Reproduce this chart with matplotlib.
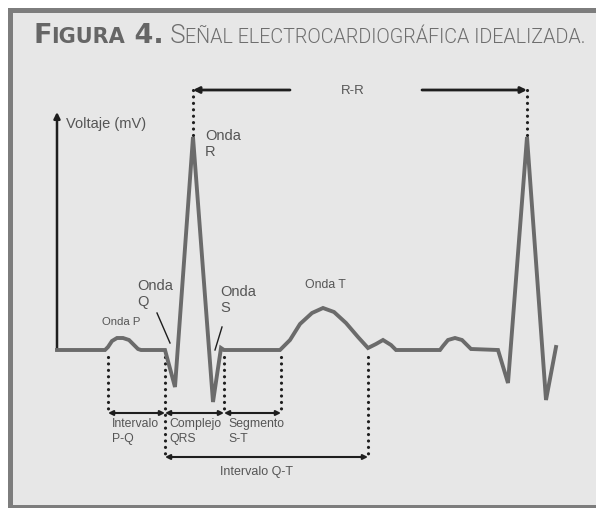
import matplotlib
matplotlib.use('Agg')
import matplotlib.pyplot as plt
from matplotlib.patches import Rectangle

# idealized ECG trace (time in px units along the strip, voltage in px units above baseline)
ecg_t = [57, 105, 108, 112, 117, 123, 129, 134, 138, 141, 165, 175, 193, 213, 221, 224,
         280, 290, 300, 312, 323, 334, 346, 358, 368, 376, 383, 391, 396, 440,
         443, 448, 455, 462, 467, 471, 498, 508, 527, 546, 556]
ecg_v = [0, 0, 3, 9, 12, 12, 10, 5, 1, 0, 0, -37, 213, -52, 2, 0,
         0, 10, 26, 37, 42, 38, 27, 13, 2, 6, 10, 5, 0, 0,
         4, 10, 12, 10, 5, 1, 0, -33, 213, -50, 3]

# interval boundaries: P start, Q start, S end, T start, T end
bounds = [108, 165, 224, 281, 368]
short_labels = ['Intervalo\nP-Q', 'Complejo\nQRS', 'Segmento\nS-T']
r_peaks = [193, 527]

line_col = '#6b6b6b'
text_col = '#555555'
dark = '#1e1e1e'
lab_font = 'Liberation Sans'

fig = plt.figure(figsize=(5.96, 5.08), dpi=100)
fig.patch.set_facecolor('white')
fig.patches.append(Rectangle((8/596, 0), 1, (508-8)/508, transform=fig.transFigure,
                             facecolor='#7d7d7d', edgecolor='none', zorder=-3))
fig.patches.append(Rectangle((13/596, 3/508), 1, (508-13-3)/508, transform=fig.transFigure,
                             facecolor='#e7e7e7', edgecolor='none', zorder=-2))

ax = fig.add_axes([0, 0, 1, 1])
ax.set_xlim(0, 596)
ax.set_ylim(-158, 350)
ax.axis('off')

# voltage axis
ax.annotate('', xy=(ecg_t[0], 238), xytext=(ecg_t[0], 0),
            arrowprops=dict(arrowstyle='-|>', mutation_scale=9, lw=1.8, color=dark,
                            shrinkA=0, shrinkB=0))
ax.text(66, 226, 'Voltaje (mV)', fontsize=10.5, color=text_col, va='center', family=lab_font)

# ECG trace
ax.plot(ecg_t, ecg_v, color=line_col, lw=2.8, solid_joinstyle='miter', zorder=3)

dot = dict(color=dark, lw=2.3, linestyle=(0, (0.01, 2.0)), dash_capstyle='round')

# dotted verticals
for i, x in enumerate(bounds):
    low = -108 if i in (1, 4) else -63
    ax.plot([x, x], [-7, low], **dot)
for x in r_peaks:
    ax.plot([x, x], [215, 262], **dot)

arr = dict(arrowstyle='<|-|>', mutation_scale=7, lw=1.5, color=dark, shrinkA=0, shrinkB=0)
for a, b, lab in zip(bounds[:3], bounds[1:4], short_labels):
    ax.annotate('', xy=(a, -63), xytext=(b, -63), arrowprops=arr)
    ax.text(a + 4, -68, lab, fontsize=8.8, color=text_col, va='top', ha='left',
            linespacing=1.3, family=lab_font)
ax.annotate('', xy=(bounds[1], -107), xytext=(bounds[4], -107), arrowprops=arr)
ax.text(220, -122, 'Intervalo Q-T', fontsize=9, color=text_col, va='center', family=lab_font)

# R-R interval
rr = dict(arrowstyle='-|>', mutation_scale=9, lw=2.0, color=dark, shrinkA=0, shrinkB=0)
ax.annotate('', xy=(r_peaks[0], 260), xytext=(290, 260), arrowprops=rr)
ax.annotate('', xy=(r_peaks[1], 260), xytext=(422, 260), arrowprops=rr)
ax.text(353, 259, 'R-R', fontsize=9.5, color=text_col, ha='center', va='center', family=lab_font)

# wave labels
ax.text(205, 221, 'Onda\nR', fontsize=10.5, color=text_col, va='top', linespacing=1.15,
        family=lab_font)
ax.text(137, 71, 'Onda\nQ', fontsize=10.5, color=text_col, va='top', linespacing=1.15,
        family=lab_font)
ax.text(220, 65, 'Onda\nS', fontsize=10.5, color=text_col, va='top', linespacing=1.15,
        family=lab_font)
ax.text(102, 28, 'Onda P', fontsize=8.2, color=text_col, va='center', family=lab_font)
ax.text(305, 65, 'Onda T', fontsize=8.8, color=text_col, va='center', family=lab_font)
ax.plot([157, 170], [37, 7], color=dark, lw=1.0)
ax.plot([222, 215], [23, 0], color=dark, lw=1.0)

# title in small caps, assembled from pieces
pieces = [('F', 19.5, 'heavy', 'DejaVu Sans', '#666666'),
          ('IGURA', 15, 'heavy', 'DejaVu Sans', '#666666'),
          (' 4.', 19.5, 'heavy', 'DejaVu Sans', '#666666'),
          (' S', 18.5, 300, 'Roboto', '#6e6e6e'),
          ('EÑAL ELECTROCARDIOGRÁFICA IDEALIZADA.', 14.2, 300, 'Roboto', '#6e6e6e')]
renderer = fig.canvas.get_renderer()
x = 33
for s, size, w, fam, col in pieces:
    t = fig.text(x / 596, 1 - 43 / 508, s, fontsize=size, fontweight=w, family=fam,
                 color=col, va='baseline', ha='left')
    x += t.get_window_extent(renderer).width

fig.savefig('out.png', dpi=100)
